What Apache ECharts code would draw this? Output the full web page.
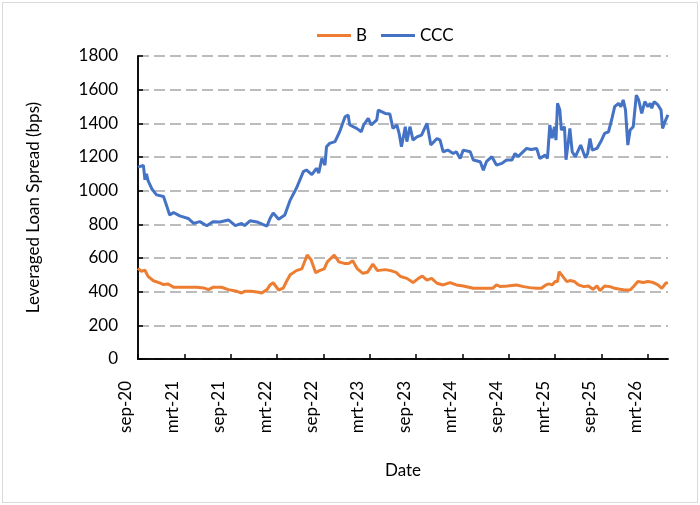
<!DOCTYPE html>
<html>
<head>
<meta charset="utf-8">
<script src="https://cdn.jsdelivr.net/npm/echarts@6/dist/echarts.min.js"></script>
<style>
  html, body { margin: 0; padding: 0; background: #fff; }
  #wrap { position: relative; width: 700px; height: 505px; }
  #chart { position: absolute; left: 0; top: 0; width: 700px; height: 505px; }
  #frame { position: absolute; left: 2px; top: 2px; width: 694px; height: 499px; border: 1px solid #d9d9d9; pointer-events: none; }
</style>
</head>
<body>
<div id="wrap">
  <div id="chart"></div>
  <div id="frame"></div>
</div>
<script>
// x values are months since sep 2020
const xTickLabels = ['sep-20', 'mrt-21', 'sep-21', 'mrt-22', 'sep-22', 'mrt-23',
  'sep-23', 'mrt-24', 'sep-24', 'mrt-25', 'sep-25', 'mrt-26']

const cccMonths = [0.0, 0.7, 0.9, 1.1, 1.3, 1.8, 2.4, 3.3, 3.6, 4.1, 4.6, 5.4, 6.5, 7.2, 8.0, 8.9,
  9.7, 10.6, 11.7, 12.6, 13.4, 13.8, 14.5, 15.4, 16.2, 16.7, 17.1, 17.5, 18.2, 19.0, 19.7, 20.5,
  21.4, 21.8, 22.5, 23.1, 23.4, 23.8, 24.2, 24.4, 24.8, 25.5, 26.1, 26.8, 27.2, 27.4, 28.3, 28.9,
  29.2, 29.8, 30.2, 30.9, 31.1, 32.0, 32.6, 33.0, 33.5, 33.8, 34.1, 34.6, 34.8, 35.2, 35.6, 36.1,
  36.7, 37.1, 37.4, 37.9, 38.7, 39.1, 39.5, 40.1, 40.8, 41.2, 41.7, 42.1, 43.0, 43.4, 44.3, 44.7,
  45.1, 45.8, 46.4, 47.1, 47.7, 48.4, 48.8, 49.2, 50.3, 50.9, 51.6, 51.8, 52.0, 52.7, 53.0, 53.3,
  53.6, 53.9, 54.1, 54.3, 54.6, 54.8, 55.2, 55.4, 55.7, 55.9, 56.2, 56.6, 57.0, 57.3, 57.9, 58.2,
  58.5, 58.8, 59.4, 60.0, 60.4, 60.9, 61.3, 61.7, 62.2, 62.5, 62.8, 63.1, 63.4, 63.7, 64.1, 64.5,
  64.8, 65.2, 65.6, 66.0, 66.3, 66.5, 66.8, 67.3, 67.7, 67.9, 68.3, 68.6]
const cccSpread = [1140, 1150, 1065, 1100, 1060, 1010, 975, 965, 925, 855, 870, 850, 835, 806, 816, 792,
  816, 814, 826, 792, 806, 792, 821, 814, 798, 790, 836, 868, 830, 855, 944, 1014,
  1113, 1123, 1095, 1133, 1105, 1192, 1152, 1261, 1281, 1291, 1350, 1439, 1449, 1390, 1370, 1350,
  1390, 1430, 1390, 1420, 1479, 1459, 1455, 1370, 1390, 1340, 1261, 1380, 1291, 1380, 1300, 1320,
  1330, 1370, 1400, 1271, 1310, 1300, 1231, 1241, 1221, 1231, 1191, 1241, 1231, 1182, 1172, 1122,
  1172, 1202, 1152, 1162, 1182, 1182, 1221, 1202, 1251, 1245, 1251, 1261, 1191, 1211, 1192, 1390,
  1311, 1380, 1300, 1519, 1479, 1360, 1380, 1184, 1290, 1370, 1231, 1201, 1241, 1271, 1196, 1221,
  1310, 1241, 1251, 1300, 1340, 1350, 1420, 1499, 1519, 1499, 1539, 1479, 1271, 1360, 1380, 1568,
  1539, 1459, 1529, 1499, 1519, 1489, 1529, 1509, 1479, 1370, 1420, 1450]

const bMonths = [0.0, 0.4, 0.9, 1.3, 2.0, 2.8, 3.3, 3.9, 4.6, 5.9, 7.6, 8.5, 9.1, 9.7, 10.8, 11.7,
  12.8, 13.4, 13.8, 14.7, 15.6, 16.0, 16.7, 17.1, 17.5, 18.2, 18.8, 19.2, 19.7, 20.5, 21.2, 21.9,
  22.4, 23.0, 23.4, 24.1, 24.5, 25.4, 26.0, 26.7, 27.3, 27.8, 28.4, 29.1, 29.7, 30.4, 31.0, 32.0,
  32.7, 33.4, 34.0, 34.8, 35.6, 36.3, 36.8, 37.4, 38.0, 38.7, 39.5, 40.4, 41.2, 42.1, 43.4, 44.7,
  45.9, 46.4, 46.9, 47.8, 49.0, 49.9, 50.7, 51.6, 52.2, 52.8, 53.2, 53.6, 54.0, 54.3, 54.5, 55.0,
  55.5, 55.9, 56.5, 57.0, 57.7, 58.3, 58.9, 59.4, 59.8, 60.4, 61.1, 61.7, 62.4, 63.0, 63.7, 64.2,
  64.7, 65.4, 66.0, 66.7, 67.3, 67.8, 68.3, 68.6]
const bSpread = [539, 521, 527, 491, 465, 452, 442, 446, 426, 426, 426, 422, 412, 426, 426, 412,
  402, 392, 402, 402, 396, 392, 412, 440, 453, 410, 421, 459, 500, 525, 535, 618,
  590, 513, 523, 535, 577, 618, 577, 568, 568, 584, 535, 509, 515, 564, 525, 531,
  525, 515, 490, 479, 454, 479, 493, 469, 479, 450, 440, 454, 440, 434, 420, 420,
  420, 440, 430, 434, 440, 430, 424, 420, 420, 440, 446, 440, 460, 460, 519, 489,
  460, 466, 460, 440, 430, 434, 414, 434, 406, 434, 430, 420, 414, 410, 410, 434,
  460, 454, 460, 454, 440, 420, 450, 454]

const FONT = 'Lato'

function pairs(xs, ys) {
  return xs.map((x, i) => [x, ys[i]])
}

const chart = echarts.init(document.getElementById('chart'))

const option = {
  animation: false,
  textStyle: { fontFamily: FONT },
  legend: {
    top: 22,
    left: 312,
    itemWidth: 34,
    itemHeight: 3,
    itemGap: 14,
    icon: 'rect',
    textStyle: { fontFamily: FONT, fontSize: 17, color: '#000' },
    data: ['B', 'CCC']
  },
  grid: { left: 138, right: 32, top: 56, bottom: 146, containLabel: false },
  xAxis: [
    {
      type: 'value',
      min: 0,
      max: 68.6,
      interval: 6,
      name: 'Date',
      nameLocation: 'middle',
      nameGap: 103,
      nameTextStyle: { fontFamily: FONT, fontSize: 17, color: '#000' },
      axisLine: { show: true, lineStyle: { color: '#000', width: 1.5 } },
      axisTick: { show: true, inside: true, length: 5, lineStyle: { color: '#000', width: 1.5 } },
      splitLine: { show: false },
      axisLabel: {
        rotate: 90,
        margin: 22,
        showMaxLabel: false,
        verticalAlign: 'bottom',
        lineHeight: 24,
        fontFamily: FONT,
        fontSize: 17,
        color: '#000',
        formatter: v => {
          const i = Math.round(v / 6)
          return Math.abs(v - i * 6) < 1e-6 && xTickLabels[i] ? xTickLabels[i] : ''
        }
      }
    },
    {
      type: 'value',
      position: 'top',
      min: 0,
      max: 68.6,
      axisLine: { show: true, lineStyle: { color: '#000', width: 1.5 } },
      axisTick: { show: false },
      axisLabel: { show: false },
      splitLine: { show: false }
    }
  ],
  yAxis: [
    {
      type: 'value',
      min: 0,
      max: 1800,
      interval: 200,
      name: 'Leveraged Loan Spread (bps)',
      nameLocation: 'middle',
      nameGap: 96,
      nameTextStyle: { fontFamily: FONT, fontSize: 17, color: '#000' },
      axisLine: { show: true, lineStyle: { color: '#000', width: 1.5 } },
      axisTick: { show: true, inside: true, length: 5, lineStyle: { color: '#000', width: 1.5 } },
      axisLabel: { margin: 20, fontFamily: FONT, fontSize: 17, color: '#000', formatter: v => String(v) },
      splitLine: { show: true, lineStyle: { color: '#a6a6a6', width: 1.5, type: [11, 5] } }
    },
    {
      type: 'value',
      position: 'right',
      min: 0,
      max: 1800,
      axisLine: { show: true, lineStyle: { color: '#000', width: 1.5 } },
      axisTick: { show: false },
      axisLabel: { show: false },
      splitLine: { show: false }
    }
  ],
  series: [
    {
      name: 'B',
      type: 'line',
      data: pairs(bMonths, bSpread),
      showSymbol: false,
      symbol: 'none',
      lineStyle: { color: '#ed7d31', width: 3 },
      itemStyle: { color: '#ed7d31' },
      z: 3
    },
    {
      name: 'CCC',
      type: 'line',
      data: pairs(cccMonths, cccSpread),
      showSymbol: false,
      symbol: 'none',
      lineStyle: { color: '#4472c4', width: 3 },
      itemStyle: { color: '#4472c4' },
      z: 3
    }
  ]
}

chart.setOption(option)
</script>
</body>
</html>
